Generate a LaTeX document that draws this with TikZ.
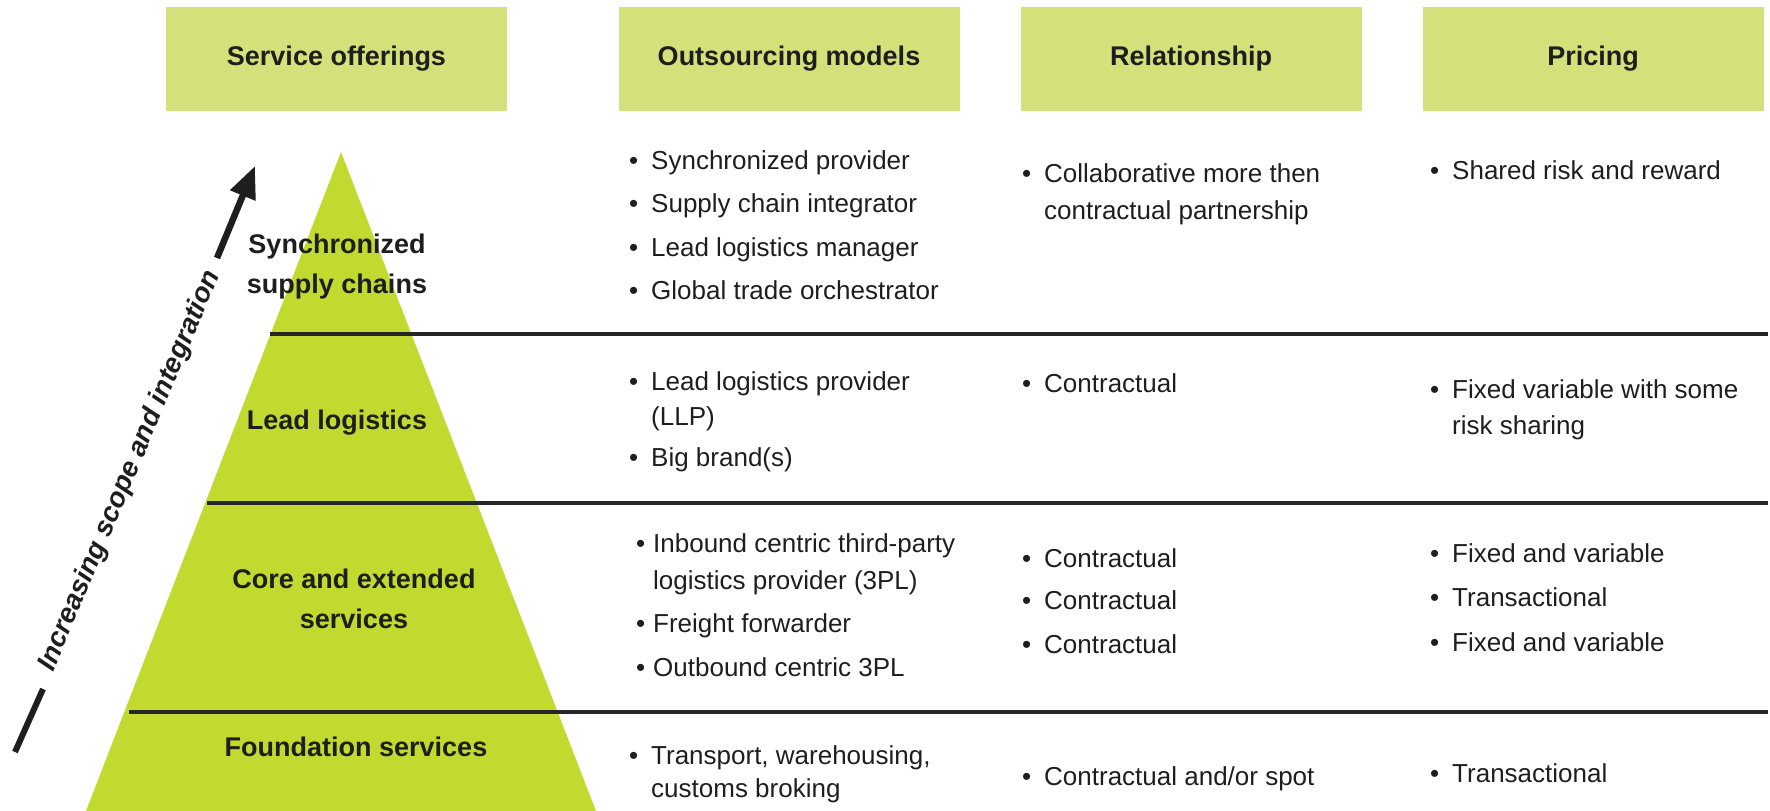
\documentclass[tikz,border=0pt]{standalone}
\usepackage{fontspec}
\setmainfont{Liberation Sans}
\usetikzlibrary{arrows.meta}
\definecolor{hdrgreen}{HTML}{D4E17A}
\definecolor{pyrgreen}{HTML}{C2D92F}
\definecolor{ink}{HTML}{1E1E1E}
\tikzset{
  hdr/.style={fill=hdrgreen, minimum width=341pt, minimum height=104pt, inner sep=0pt,
    font=\fontsize{27}{30}\selectfont\bfseries, text=ink},
  plabel/.style={align=center, inner sep=0pt, font=\fontsize{27}{40}\selectfont\bfseries, text=ink},
  item/.style={anchor=base west, align=left, inner sep=0pt, text=ink,
    font=\fontsize{26}{36}\selectfont},
  sep/.style={draw=black!85, line width=3.2pt},
  rot/.style={inner sep=0pt, font=\fontsize{27.5}{30}\selectfont\bfseries\itshape, text=ink},
  arr/.style={draw=ink, line width=6.5pt, -{Triangle[length=32pt,width=26pt]}},
  seg/.style={draw=ink, line width=6pt},
}
\newcommand{\bul}{\llap{\textbullet\hspace{13pt}}}
\newcommand{\bulc}{\llap{\textbullet\hspace{8pt}}}
\begin{document}
\begin{tikzpicture}[x=1pt,y=-1pt]
\useasboundingbox (0,0) rectangle (1770,811);
% headers
\node[hdr] (h1) at (336.5,59) {Service offerings};
\node[hdr] (h2) at (789,59) {Outsourcing models};
\node[hdr] (h3) at (1191,59) {Relationship};
\node[hdr] (h4) at (1593,59) {Pricing};
% pyramid
\fill[pyrgreen] (341,152) -- (596,811) -- (86,811) -- cycle;
% separators
\draw[sep] (270,334) -- (1768,334);
\draw[sep] (207,503) -- (1768,503);
\draw[sep] (129,712) -- (1768,712);
% pyramid labels
\node[plabel] (p1) at (337,267) {Synchronized\\supply chains};
\node[plabel] (p2) at (337,423) {Lead logistics};
\node[plabel] (p3) at (354,599) {Core and extended\\services};
\node[plabel] (p4) at (356,747) {Foundation services};
% scope arrow
\node[rot, rotate=67.3] (scope) at (130,471) {Increasing scope and integration};
\coordinate (s0) at (15,752);
\coordinate (s1) at (43,689);
\coordinate (a0) at (217,258);
\coordinate (a1) at (255,166);
\draw[seg] (s0) -- (s1);
\draw[arr] (a0) -- (a1);
% outsourcing models (multi-line nodes anchored at the baseline of their last line)
\node[item] (o1) at (651,169) {\bul Synchronized provider};
\node[item] (o2) at (651,212) {\bul Supply chain integrator};
\node[item] (o3) at (651,256) {\bul Lead logistics manager};
\node[item] (o4) at (651,299) {\bul Global trade orchestrator};
\node[item, font=\fontsize{26}{35}\selectfont] (o5) at (651,425) {\bul Lead logistics provider\\(LLP)};
\node[item] (o6) at (651,466) {\bul Big brand(s)};
\node[item, font=\fontsize{26}{37}\selectfont] (o7) at (653,589) {\bulc Inbound centric third-party\\logistics provider (3PL)};
\node[item] (o8) at (653,632) {\bulc Freight forwarder};
\node[item] (o9) at (653,676) {\bulc Outbound centric 3PL};
\node[item, font=\fontsize{26}{33}\selectfont] (o10) at (651,797) {\bul Transport, warehousing,\\customs broking};
% relationship
\node[item, font=\fontsize{26}{37}\selectfont] (r1) at (1044,219) {\bul Collaborative more then\\contractual partnership};
\node[item] (r2) at (1044,392) {\bul Contractual};
\node[item] (r3) at (1044,567) {\bul Contractual};
\node[item] (r4) at (1044,609) {\bul Contractual};
\node[item] (r5) at (1044,653) {\bul Contractual};
\node[item] (r6) at (1044,785) {\bul Contractual and/or spot};
% pricing
\node[item] (c1) at (1452,179) {\bul Shared risk and reward};
\node[item] (c2) at (1452,434) {\bul Fixed variable with some\\risk sharing};
\node[item] (c3) at (1452,562) {\bul Fixed and variable};
\node[item] (c4) at (1452,606) {\bul Transactional};
\node[item] (c5) at (1452,651) {\bul Fixed and variable};
\node[item] (c6) at (1452,782) {\bul Transactional};
\end{tikzpicture}
\end{document}
